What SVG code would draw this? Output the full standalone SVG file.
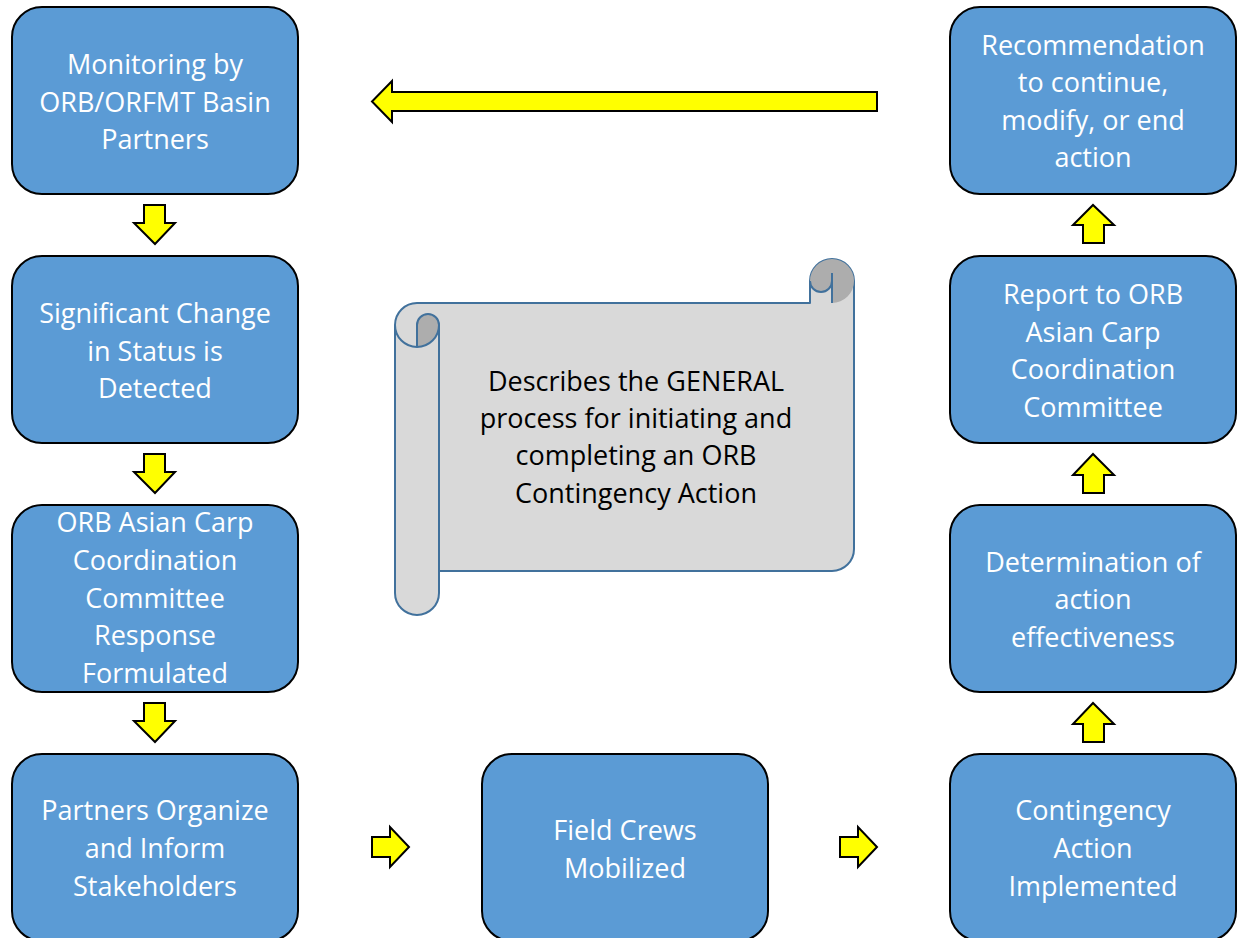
<svg xmlns="http://www.w3.org/2000/svg" width="1237" height="938" viewBox="0 0 1237 938">
<style>
.box{fill:#5B9BD5;stroke:#000;stroke-width:2}
.bt{fill:#fff;font-family:"Open Sans","Liberation Sans",sans-serif;font-size:27px;text-anchor:middle}
.arr{fill:#FFFF00;stroke:#000;stroke-width:2;stroke-linejoin:miter}
.scr{fill:#D9D9D9;stroke:#41719C;stroke-width:2;stroke-linejoin:round}
.scrd{fill:#ADADAD;stroke:none}
.scl{fill:none;stroke:#41719C;stroke-width:2}
.st{fill:#000;font-family:"Open Sans","Liberation Sans",sans-serif;font-size:27px;text-anchor:middle}
</style>
<rect width="1237" height="938" fill="#fff"/>
<g id="connectors">
<path class="arr" d="M877,92 L392,92 L392,81 L372,101.5 L392,122 L392,111 L877,111 Z"/>
<path class="arr" d="M144,205 L165,205 L165,223 L175,223 L155,244 L134,223 L144,223 Z"/>
<path class="arr" d="M144,454 L165,454 L165,472 L175,472 L155,493 L134,472 L144,472 Z"/>
<path class="arr" d="M144,703 L165,703 L165,721 L175,721 L155,742 L134,721 L144,721 Z"/>
<path class="arr" d="M372,837 L390,837 L390,827 L409,847 L390,867 L390,857 L372,857 Z"/>
<path class="arr" d="M840,837 L858,837 L858,827 L877,847 L858,867 L858,857 L840,857 Z"/>
<path class="arr" d="M1083,742 L1104,742 L1104,724 L1114,724 L1093,703 L1073,724 L1083,724 Z"/>
<path class="arr" d="M1083,493 L1104,493 L1104,475 L1114,475 L1093,454 L1073,475 L1083,475 Z"/>
<path class="arr" d="M1083,243 L1104,243 L1104,225 L1114,225 L1093,205 L1073,225 L1083,225 Z"/>
</g>
<g id="n1"><rect class="box" x="12" y="7" width="286" height="187" rx="30"/>
<text class="bt"><tspan x="155" y="74">Monitoring by</tspan><tspan x="155" y="112">ORB/ORFMT Basin</tspan><tspan x="155" y="149">Partners</tspan></text></g>
<g id="n2"><rect class="box" x="12" y="256" width="286" height="187" rx="30"/>
<text class="bt"><tspan x="155" y="323">Significant Change</tspan><tspan x="155" y="361">in Status is</tspan><tspan x="155" y="398">Detected</tspan></text></g>
<g id="n3"><rect class="box" x="12" y="505" width="286" height="187" rx="30"/>
<text class="bt"><tspan x="155" y="532">ORB Asian Carp</tspan><tspan x="155" y="570">Coordination</tspan><tspan x="155" y="608">Committee</tspan><tspan x="155" y="645">Response</tspan><tspan x="155" y="683">Formulated</tspan></text></g>
<g id="n4"><rect class="box" x="12" y="754" width="286" height="187" rx="30"/>
<text class="bt"><tspan x="155" y="820">Partners Organize</tspan><tspan x="155" y="858">and Inform</tspan><tspan x="155" y="896">Stakeholders</tspan></text></g>
<g id="n5"><rect class="box" x="482" y="754" width="286" height="187" rx="30"/>
<text class="bt"><tspan x="625" y="840">Field Crews</tspan><tspan x="625" y="878">Mobilized</tspan></text></g>
<g id="n6"><rect class="box" x="950" y="754" width="286" height="187" rx="30"/>
<text class="bt"><tspan x="1093" y="820">Contingency</tspan><tspan x="1093" y="858">Action</tspan><tspan x="1093" y="896">Implemented</tspan></text></g>
<g id="n7"><rect class="box" x="950" y="505" width="286" height="187" rx="30"/>
<text class="bt"><tspan x="1093" y="572">Determination of</tspan><tspan x="1093" y="609">action</tspan><tspan x="1093" y="647">effectiveness</tspan></text></g>
<g id="n8"><rect class="box" x="950" y="256" width="286" height="187" rx="30"/>
<text class="bt"><tspan x="1093" y="304">Report to ORB</tspan><tspan x="1093" y="342">Asian Carp</tspan><tspan x="1093" y="379">Coordination</tspan><tspan x="1093" y="417">Committee</tspan></text></g>
<g id="n9"><rect class="box" x="950" y="7" width="286" height="187" rx="30"/>
<text class="bt"><tspan x="1093" y="55">Recommendation</tspan><tspan x="1093" y="92">to continue,</tspan><tspan x="1093" y="130">modify, or end</tspan><tspan x="1093" y="167">action</tspan></text></g>
<g id="scroll">
<path class="scr" d="M854,281 L854,549 A22,22 0 0 1 832,571 L439,571 L439,593 A22,22 0 0 1 395,593 L395,325 A22,22 0 0 1 417,303 L810,303 L810,281 A22,22 0 0 1 854,281 Z"/>
<path class="scrd" d="M832,303 A22,22 0 0 0 854,281 A22,22 0 0 0 810,281 A11,11 0 0 0 832,281 Z"/>
<path class="scrd" d="M417,347 L417,325 A11,11 0 0 1 439,325 A22,22 0 0 1 417,347 Z"/>
<path class="scl" d="M810,281 A11,11 0 0 0 832,281 M832,273 L832,303"/>
<path class="scl" d="M395,325 A22,22 0 0 0 417,347 L417,325 A11,11 0 0 1 439,325 L439,571 M439,325 A22,22 0 0 1 417,347"/>
<text class="st"><tspan x="636" y="391">Describes the GENERAL</tspan><tspan x="636" y="428">process for initiating and</tspan><tspan x="636" y="465">completing an ORB</tspan><tspan x="636" y="503">Contingency Action</tspan></text>
</g>
</svg>
